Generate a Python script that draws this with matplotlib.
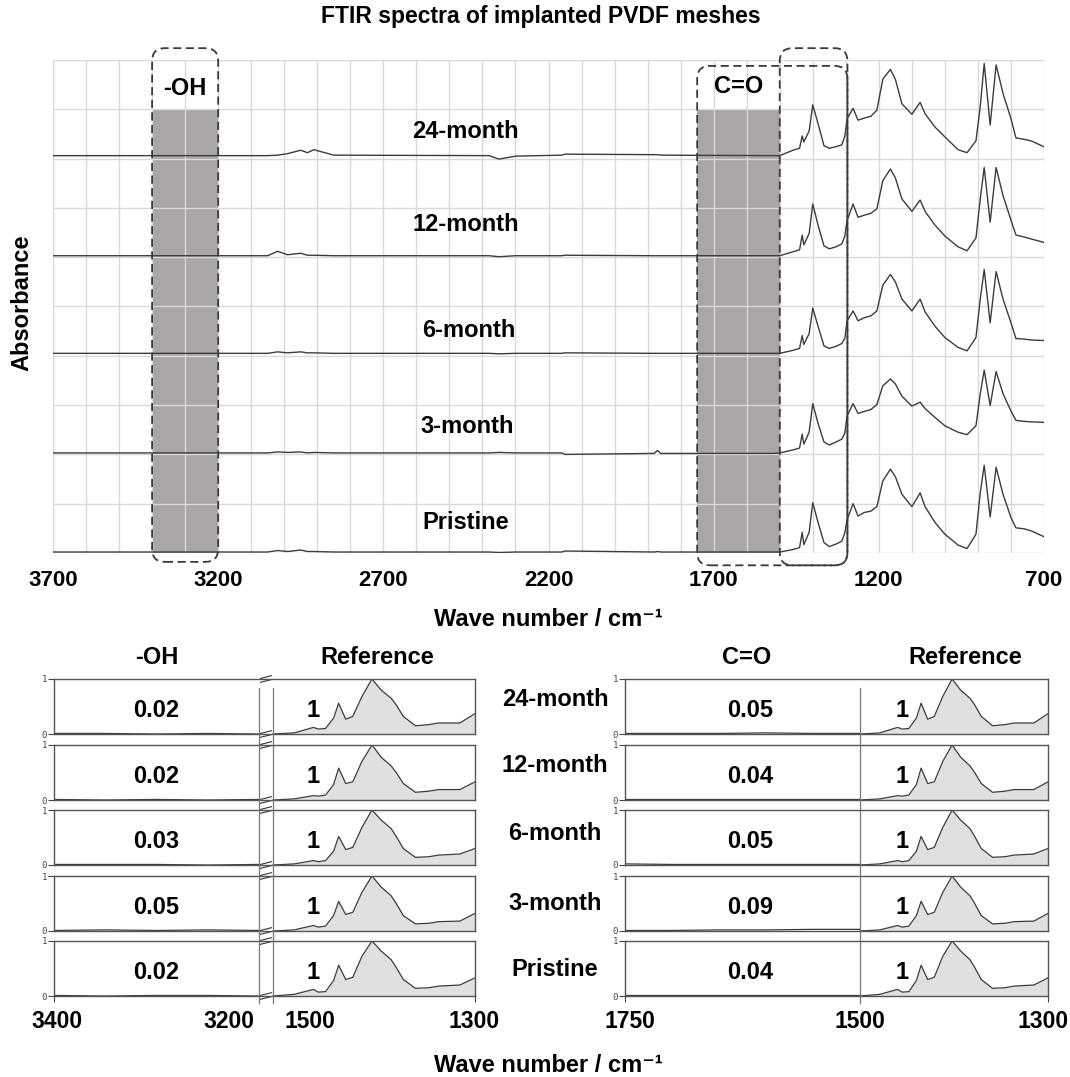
import numpy as np
import matplotlib
matplotlib.use('Agg')
import matplotlib.pyplot as plt
from matplotlib.patches import FancyBboxPatch
from matplotlib.lines import Line2D
from matplotlib.ticker import MultipleLocator

plt.rcParams['font.family'] = ['Liberation Sans', 'DejaVu Sans']

# ---- data ----
samples = ['24-month', '12-month', '6-month', '3-month', 'Pristine']
offsets = [8.06, 6.03, 4.05, 2.03, 0.02]

# top panel: flat region 3700-1520 cm-1
base_wn = [3700, 3050, 3020, 2990, 2950, 2930, 2910, 2850, 2380, 2350, 2300,
           2160, 2150, 1880, 1870, 1860, 1520]
base_24 = [0, 0, 0.01, 0.04, 0.11, 0.06, 0.12, 0.01, 0, -0.07, -0.01, 0.01, 0.03, 0.02, 0.02, 0.01, 0]
base_12 = [0, 0, 0.09, 0.02, 0.05, 0.01, 0.01, 0, 0, -0.02, 0, 0, 0.01, 0, 0, 0, 0]
base_6 = [0, 0, 0.03, 0.01, 0.03, 0.01, 0.01, 0, 0, -0.01, 0, 0, 0.01, 0, 0, 0, 0]
base_3 = [0, 0, 0.02, 0.01, 0.02, 0, 0.01, 0, 0, 0.01, 0, 0, -0.03, -0.01, 0.05, -0.01, -0.01]
base_pr = [0, 0, 0.03, 0.01, 0.04, 0.01, 0.01, 0, 0, -0.01, 0, 0, 0.02, 0, 0.01, 0, 0]

# top panel: fingerprint region 1500-700 cm-1
fp_wn = [1500, 1460, 1440, 1432, 1427, 1411, 1400, 1384, 1366, 1350, 1330, 1312, 1303, 1296,
         1278, 1263, 1245, 1224, 1206, 1188, 1165, 1150, 1130, 1100, 1075, 1060, 1030, 1000,
         960, 933, 906, 893, 881, 863, 845, 824, 800, 785, 760, 739, 700]
fp_24 = [0.0, 0.11, 0.15, 0.40, 0.28, 0.50, 1.03, 0.65, 0.20, 0.15, 0.18, 0.22, 0.39, 0.75,
         0.96, 0.72, 0.76, 0.80, 0.92, 1.55, 1.75, 1.55, 1.05, 0.84, 1.08, 0.85, 0.58, 0.38,
         0.12, 0.06, 0.30, 1.00, 1.87, 0.62, 1.84, 1.26, 0.75, 0.36, 0.33, 0.30, 0.18]
fp_12 = [0.0, 0.08, 0.12, 0.42, 0.22, 0.45, 1.05, 0.62, 0.20, 0.14, 0.18, 0.24, 0.40, 0.72,
         1.05, 0.78, 0.82, 0.86, 0.95, 1.52, 1.76, 1.58, 1.15, 0.90, 1.13, 0.90, 0.62, 0.40,
         0.18, 0.10, 0.36, 1.15, 1.79, 0.68, 1.79, 1.22, 0.72, 0.42, 0.38, 0.34, 0.27]
fp_6 = [0.0, 0.06, 0.10, 0.36, 0.18, 0.40, 0.92, 0.55, 0.15, 0.10, 0.14, 0.20, 0.30, 0.66,
        0.86, 0.66, 0.72, 0.76, 0.86, 1.38, 1.60, 1.45, 1.10, 0.86, 1.10, 0.84, 0.55, 0.32,
        0.12, 0.05, 0.32, 1.10, 1.70, 0.62, 1.66, 1.10, 0.62, 0.30, 0.29, 0.27, 0.26]
fp_3 = [0.0, 0.06, 0.10, 0.38, 0.18, 0.42, 1.00, 0.60, 0.22, 0.16, 0.22, 0.28, 0.40, 0.75,
        1.00, 0.80, 0.84, 0.88, 0.98, 1.36, 1.50, 1.40, 1.15, 0.95, 1.03, 0.90, 0.72, 0.55,
        0.42, 0.37, 0.55, 1.20, 1.68, 0.96, 1.65, 1.20, 0.85, 0.66, 0.64, 0.63, 0.62]
fp_pr = [0.0, 0.05, 0.09, 0.40, 0.15, 0.40, 1.00, 0.60, 0.19, 0.11, 0.16, 0.22, 0.39, 0.66,
         0.98, 0.73, 0.80, 0.83, 0.92, 1.44, 1.68, 1.53, 1.17, 0.92, 1.20, 0.92, 0.60, 0.36,
         0.14, 0.07, 0.36, 1.20, 1.76, 0.71, 1.72, 1.17, 0.70, 0.49, 0.47, 0.43, 0.31]

base_all = [base_24, base_12, base_6, base_3, base_pr]
fp_all = [fp_24, fp_12, fp_6, fp_3, fp_pr]

# bottom panels: normalised reference band 1500-1300 cm-1
ref_wn = [1500, 1479, 1460, 1455, 1448, 1440, 1435, 1428, 1421, 1412, 1402, 1393, 1383,
          1378, 1371, 1359, 1346, 1336, 1315, 1300]
ref_24 = [0.0, 0.02, 0.12, 0.09, 0.10, 0.29, 0.56, 0.27, 0.32, 0.68, 1.00, 0.80, 0.65, 0.53, 0.32, 0.15, 0.17, 0.20, 0.20, 0.37]
ref_12 = [0.0, 0.02, 0.08, 0.07, 0.09, 0.28, 0.58, 0.30, 0.33, 0.70, 1.00, 0.78, 0.62, 0.50, 0.30, 0.14, 0.16, 0.19, 0.19, 0.33]
ref_6 = [0.0, 0.02, 0.08, 0.06, 0.08, 0.25, 0.52, 0.28, 0.32, 0.68, 1.00, 0.82, 0.66, 0.52, 0.30, 0.14, 0.15, 0.18, 0.20, 0.30]
ref_3 = [0.0, 0.02, 0.10, 0.07, 0.09, 0.28, 0.54, 0.30, 0.34, 0.70, 1.00, 0.80, 0.64, 0.50, 0.28, 0.13, 0.14, 0.17, 0.18, 0.32]
ref_pr = [0.0, 0.03, 0.12, 0.07, 0.08, 0.28, 0.56, 0.30, 0.34, 0.72, 1.00, 0.82, 0.66, 0.52, 0.30, 0.14, 0.15, 0.18, 0.20, 0.33]
ref_all = [ref_24, ref_12, ref_6, ref_3, ref_pr]

oh_wn = [3400, 3350, 3300, 3250, 3200]
oh_all = [[0.01, 0.01, 0.0, 0.01, 0.0], [0.01, 0.0, 0.01, 0.0, 0.01], [0.01, 0.01, 0.01, 0.0, 0.01],
          [0.01, 0.02, 0.01, 0.02, 0.01], [0.01, 0.0, 0.01, 0.01, 0.0]]
co_wn = [1750, 1700, 1650, 1600, 1550, 1500]
co_all = [[0.01, 0.01, 0.01, 0.02, 0.01, 0.01], [0.01, 0.01, 0.01, 0.01, 0.01, 0.01],
          [0.02, 0.01, 0.01, 0.01, 0.01, 0.01], [0.01, 0.01, 0.02, 0.02, 0.03, 0.03],
          [0.01, 0.01, 0.01, 0.01, 0.01, 0.01]]

oh_ratio = ['0.02', '0.02', '0.03', '0.05', '0.02']
co_ratio = ['0.05', '0.04', '0.05', '0.09', '0.04']

top_ticks = [3700, 3200, 2700, 2200, 1700, 1200, 700]

# ---- figure ----
W, H = 1070, 1077
fig = plt.figure(figsize=(W / 100, H / 100), dpi=100)
line_c = '#3c3c3c'
box_c = '#3a3a3a'


def fx(px):
    return px / W


def fy(py):
    return 1 - py / H


ax = fig.add_axes([fx(53), fy(553), fx(1044 - 53), (553 - 60) / H])
ax.set_xlim(3700, 700)
ax.set_ylim(0, 10)
ax.set_xticks(top_ticks, labels=[str(t) for t in top_ticks], fontsize=16, fontweight='bold')
ax.xaxis.set_minor_locator(MultipleLocator(100))
ax.yaxis.set_major_locator(MultipleLocator(1))
ax.set_yticklabels([])
ax.tick_params(which='both', length=0)
ax.tick_params(axis='x', pad=12)
ax.grid(which='both', color='#d9d9d9', lw=1.0)
for s in ax.spines.values():
    s.set_visible(False)

ax.axvspan(3400, 3200, ymin=0, ymax=0.9, color='#aaa6a6', zorder=0.5, lw=0)
ax.axvspan(1750, 1500, ymin=0, ymax=0.9, color='#aaa6a6', zorder=0.5, lw=0)

for name, off, b, f in zip(samples, offsets, base_all, fp_all):
    wn = np.array(base_wn + fp_wn)
    ab = np.array(b + f) + off
    ax.plot(wn, ab, color=line_c, lw=1.0, zorder=2, solid_joinstyle='round')

label_pos = [(2450, 8.54), (2450, 6.67), (2440, 4.52), (2445, 2.56), (2450, 0.61)]
for name, (x, y) in zip(samples, label_pos):
    ax.text(x, y, name, ha='center', va='center', fontsize=17, fontweight='bold')
ax.text(3300, 9.43, '-OH', ha='center', va='center', fontsize=17, fontweight='bold')
ax.text(1625, 9.47, 'C=O', ha='center', va='center', fontsize=17, fontweight='bold')


def to_fig(a, x, y):
    return fig.transFigure.inverted().transform(a.transData.transform((x, y)))


def dashed_box(a, x0, x1, y0, y1):
    p0 = to_fig(a, x0, y0)
    p1 = to_fig(a, x1, y1)
    patch = FancyBboxPatch((min(p0[0], p1[0]), min(p0[1], p1[1])), abs(p1[0] - p0[0]), abs(p1[1] - p0[1]),
                           boxstyle='round,pad=0,rounding_size=0.012', transform=fig.transFigure,
                           fill=False, ec=box_c, lw=1.3, ls=(0, (4.5, 2.5)), zorder=5)
    fig.add_artist(patch)


dashed_box(ax, 3400, 3200, -0.18, 10.24)
dashed_box(ax, 1750, 1295, -0.25, 9.88)
dashed_box(ax, 1500, 1295, -0.25, 10.24)

fig.text(0.505, fy(17), 'FTIR spectra of implanted PVDF meshes', ha='center', va='center',
         fontsize=16.5, fontweight='bold')
fig.text(fx(22), fy(303), 'Absorbance', rotation=90, ha='center', va='center', fontsize=17, fontweight='bold')
fig.text(fx(548), fy(620), 'Wave number / cm⁻¹', ha='center', va='center', fontsize=17, fontweight='bold')

# ---- bottom panels ----
# broken axis: 3400-3200 | gap | 1500-1300, mapped onto one axes
A = (259 - 54) / 421
B = (273 - 54) / 421


def fwd(x):
    x = np.asarray(x, dtype=float)
    u = np.where(x >= 3200, (3400 - x) / 200 * A,
                 np.where(x <= 1500, B + (1500 - x) / 200 * (1 - B),
                          A + (3200 - x) / 1700 * (B - A)))
    return 1 - u


def inv(v):
    u = 1 - np.asarray(v, dtype=float)
    return np.where(u <= A, 3400 - u / A * 200,
                    np.where(u >= B, 1500 - (u - B) / (1 - B) * 200,
                             3200 - (u - A) / (B - A) * 1700))


row_tops = [679, 745, 810, 876, 941]
row_h = 55
row_label_y = [700, 766, 833, 903, 969]
fill_c = '#e0e0e0'
spine_c = '#555555'


def style_small(a, last):
    a.set_ylim(0, 1)
    a.set_yticks([0, 1], labels=['0', '1'], fontsize=6.5, color='#333333', family='DejaVu Sans Mono')
    a.tick_params(axis='y', length=4, width=0.8, pad=1, colors='#444444')
    if last:
        a.tick_params(axis='x', length=4, width=0.8, labelbottom=False, colors='#444444')
    for s in a.spines.values():
        s.set_color(spine_c)
        s.set_linewidth(1.0)


axes_left = []
axes_right = []
um = (A + B) / 2
for i in range(5):
    last = i == 4
    bot = fy(row_tops[i] + row_h)
    axl = fig.add_axes([fx(54), bot, fx(421), row_h / H])
    axl.set_xscale('function', functions=(fwd, inv))
    axl.set_xlim(3400, 1300)
    axl.set_xticks([3400, 1300] if last else [])
    axl.xaxis.set_minor_locator(plt.NullLocator())
    style_small(axl, last)
    axl.plot(oh_wn, oh_all[i], color=line_c, lw=0.9)
    axl.fill_between(ref_wn, ref_all[i], 0, color=fill_c, lw=0)
    axl.plot(ref_wn, ref_all[i], color=line_c, lw=0.9)
    axl.text(0.242, 0.42, oh_ratio[i], transform=axl.transAxes, ha='center', va='center',
             fontsize=17, fontweight='bold')
    axl.text(0.615, 0.42, '1', transform=axl.transAxes, ha='center', va='center',
             fontsize=17, fontweight='bold')
    # small break marks on the top and bottom spines
    for yy in (0, 1):
        for dy in (-0.035, 0.035):
            axl.plot([um - 0.013, um + 0.013], [yy + dy - 0.025, yy + dy + 0.025],
                     transform=axl.transAxes, color='#333333', lw=0.8, clip_on=False)
    axes_left.append(axl)

    axr = fig.add_axes([fx(625), bot, fx(423), row_h / H])
    axr.set_xlim(1750, 1300)
    axr.set_xticks([1750, 1300] if last else [])
    style_small(axr, last)
    axr.plot(co_wn, co_all[i], color=line_c, lw=0.9)
    axr.fill_between(ref_wn, ref_all[i], 0, color=fill_c, lw=0)
    axr.plot(ref_wn, ref_all[i], color=line_c, lw=0.9)
    axr.text(0.296, 0.42, co_ratio[i], transform=axr.transAxes, ha='center', va='center',
             fontsize=17, fontweight='bold')
    axr.text(0.655, 0.42, '1', transform=axr.transAxes, ha='center', va='center',
             fontsize=17, fontweight='bold')
    axes_right.append(axr)

    fig.text(fx(555), fy(row_label_y[i]), samples[i], ha='center', va='center',
             fontsize=17, fontweight='bold')

# long vertical guide lines through the stacked rows
for a, x in [(axes_left[0], 3200), (axes_left[0], 1500), (axes_right[0], 1500)]:
    xf = to_fig(a, x, 0)[0]
    fig.add_artist(Line2D([xf, xf], [fy(688), fy(1003)], transform=fig.transFigure,
                          color='#777777', lw=0.9, zorder=6))

# bottom tick labels
for a, x, dx in [(axes_left[-1], 3400, 3), (axes_left[-1], 3200, -30), (axes_left[-1], 1500, 37),
                 (axes_left[-1], 1300, -1), (axes_right[-1], 1750, 5), (axes_right[-1], 1500, 0),
                 (axes_right[-1], 1300, -5)]:
    a.annotate(str(x), xy=(x, 0), xycoords=a.get_xaxis_transform(), xytext=(dx, -26),
               textcoords='offset pixels', ha='center', va='center', fontsize=16.5,
               fontweight='bold', annotation_clip=False)

for x, t in [(157, '-OH'), (377, 'Reference'), (747, 'C=O'), (965, 'Reference')]:
    fig.text(fx(x), fy(658), t, ha='center', va='center', fontsize=17, fontweight='bold')

fig.text(fx(548), fy(1065), 'Wave number / cm⁻¹', ha='center', va='center', fontsize=17, fontweight='bold')

fig.savefig('out.png', dpi=100)
